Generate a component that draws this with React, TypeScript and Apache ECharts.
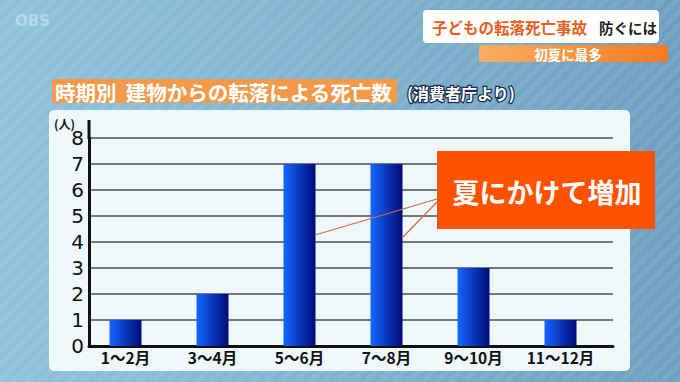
import React, { useEffect, useRef } from "react";
import * as echarts from "echarts";

const categories = ["1〜2月", "3〜4月", "5〜6月", "7〜8月", "9〜10月", "11〜12月"];
const deaths = [1, 2, 7, 7, 3, 1];
const yMin = 0;
const yMax = 8;
const yInterval = 1;

const JP = '"Noto Sans CJK JP", "Noto Sans", sans-serif';

export default function App() {
  const ref = useRef<HTMLDivElement>(null);
  useEffect(() => {
    if (!ref.current) return;
    const chart = echarts.init(ref.current, null, { renderer: "svg" });
    const barGrad = new echarts.graphic.LinearGradient(0, 0, 1, 0, [
      { offset: 0, color: "#1566ff" },
      { offset: 1, color: "#000a78" },
    ]);
    chart.setOption({
      animation: false,
      backgroundColor: "transparent",
      grid: [
        { left: 89, right: 67, top: 138, bottom: 36 },
        { left: 82, right: 76, top: 138, bottom: 36 },
      ],
      xAxis: [
        {
          type: "category",
          gridIndex: 0,
          data: categories,
          axisLine: { show: true, lineStyle: { color: "#111", width: 3 } },
          axisTick: { show: false },
          axisLabel: { show: false },
        },
        {
          type: "category",
          gridIndex: 1,
          data: categories,
          axisLine: { show: false },
          axisTick: { show: false },
          axisLabel: {
            show: true,
            interval: 0,
            hideOverlap: false,
            color: "#111",
            fontSize: 15.5,
            fontWeight: "bold",
            fontFamily: JP,
            margin: 3,
          },
        },
      ],
      yAxis: [
        {
          type: "value",
          gridIndex: 0,
          min: yMin,
          max: yMax,
          interval: yInterval,
          axisLine: { show: true, lineStyle: { color: "#111", width: 3 } },
          axisTick: { show: false },
          axisLabel: {
            color: "#111",
            fontSize: 20,
            fontFamily: '"DejaVu Sans", sans-serif',
            margin: 5,
          },
          splitLine: { show: true, lineStyle: { color: "#777", width: 2 } },
        },
        {
          type: "value",
          gridIndex: 1,
          min: yMin,
          max: yMax,
          interval: yInterval,
          show: false,
          splitLine: { show: false },
        },
      ],
      series: [
        {
          type: "bar",
          xAxisIndex: 1,
          yAxisIndex: 1,
          data: deaths,
          barWidth: 32,
          itemStyle: { color: barGrad },
          z: 5,
        },
      ],
      graphic: [
        {
          type: "rect",
          z: -10,
          shape: { x: 49, y: 110, width: 581, height: 261, r: 5 },
          style: { fill: "#eef8fa" },
        },
        {
          type: "line",
          z: 10,
          shape: { x1: 89, y1: 120, x2: 89, y2: 139 },
          style: { stroke: "#111", lineWidth: 3 },
        },
        {
          type: "text",
          x: 54,
          y: 123,
          style: { text: "(人)", fill: "#111", font: "bold 12px " + JP, textVerticalAlign: "middle" },
        },
        {
          type: "text",
          x: 15,
          y: 21,
          style: {
            text: "OBS",
            fill: "rgba(255,255,255,0.35)",
            font: "bold 15px 'DejaVu Sans', sans-serif",
            textVerticalAlign: "middle",
          },
        },
        {
          type: "rect",
          shape: { x: 423, y: 10, width: 236, height: 33, r: 4 },
          style: { fill: "#ffffff" },
        },
        {
          type: "text",
          x: 432,
          y: 27,
          style: {
            text: "子どもの転落死亡事故",
            fill: "#e8601c",
            font: "bold 15.5px " + JP,
            textVerticalAlign: "middle",
          },
        },
        {
          type: "text",
          x: 599,
          y: 27,
          style: {
            text: "防ぐには",
            fill: "#222",
            font: "bold 14.5px " + JP,
            textVerticalAlign: "middle",
          },
        },
        {
          type: "rect",
          shape: { x: 479, y: 45, width: 189, height: 17, r: 2 },
          style: {
            fill: new echarts.graphic.LinearGradient(0, 0, 1, 0, [
              { offset: 0, color: "#f9ae62" },
              { offset: 1, color: "#f57a20" },
            ]),
          },
        },
        {
          type: "text",
          x: 568,
          y: 54,
          style: {
            text: "初夏に最多",
            fill: "#ffffff",
            font: "bold 13.5px " + JP,
            textAlign: "center",
            textVerticalAlign: "middle",
          },
        },
        {
          type: "rect",
          shape: { x: 52, y: 79, width: 345, height: 24 },
          style: { fill: "#f39a4a" },
        },
        {
          type: "text",
          x: 55,
          y: 92,
          style: {
            text: "時期別  建物からの転落による死亡数",
            fill: "#ffffff",
            font: "bold 20.5px " + JP,
            textVerticalAlign: "middle",
          },
        },
        {
          type: "text",
          x: 407,
          y: 93,
          style: {
            text: "(消費者庁より)",
            fill: "#ffffff",
            stroke: "#1c2c4c",
            lineWidth: 2.5,
            font: "bold 16px " + JP,
            textVerticalAlign: "middle",
          },
        },
        {
          type: "line",
          z: 20,
          shape: { x1: 437, y1: 199, x2: 315, y2: 235 },
          style: { stroke: "#c8703a", lineWidth: 1.2 },
        },
        {
          type: "line",
          z: 20,
          shape: { x1: 437, y1: 202, x2: 403, y2: 237 },
          style: { stroke: "#c8703a", lineWidth: 1.2 },
        },
        {
          type: "rect",
          z: 30,
          shape: { x: 437, y: 151, width: 218, height: 78 },
          style: { fill: "#ff5200" },
        },
        {
          type: "text",
          z: 31,
          x: 547,
          y: 191,
          style: {
            text: "夏にかけて増加",
            fill: "#ffffff",
            font: "bold 27px " + JP,
            textAlign: "center",
            textVerticalAlign: "middle",
          },
        },
      ],
    });
    return () => chart.dispose();
  }, []);

  return (
    <div
      style={{
        position: "fixed",
        left: 0,
        top: 0,
        width: 680,
        height: 382,
        background:
          "repeating-linear-gradient(-45deg, rgba(255,255,255,0.07) 0px, rgba(255,255,255,0.07) 5px, rgba(0,0,0,0) 5px, rgba(0,0,0,0) 10px), linear-gradient(90deg, #8fc3dc 0%, #82b6d2 40%, #6e9fbe 100%)",
      }}
    >
      <div ref={ref} style={{ width: 680, height: 382 }} />
    </div>
  );
}
